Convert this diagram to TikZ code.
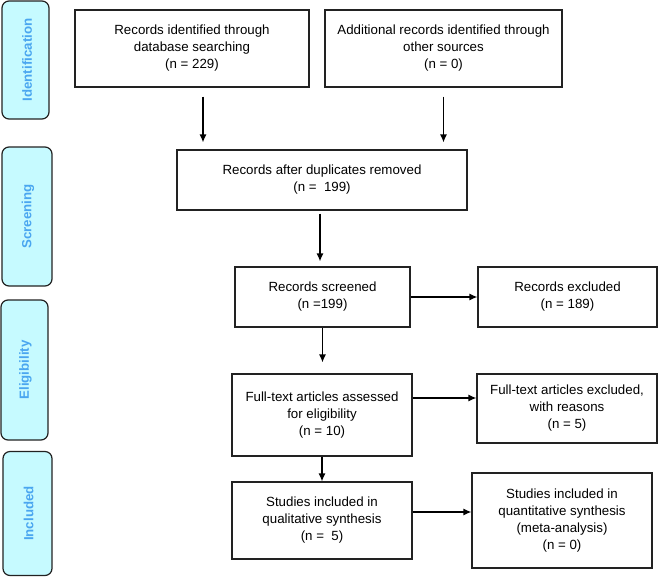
\documentclass[tikz,border=0pt]{standalone}
\usepackage{fontspec}
\setmainfont{Liberation Sans}
\usetikzlibrary{arrows.meta}
\definecolor{stagefill}{HTML}{C6FAFF}
\definecolor{stagetext}{HTML}{4AA6F0}
\definecolor{edge}{HTML}{222222}
\tikzset{
  box/.style={draw=edge, line width=1.2pt, fill=white, inner sep=0pt, align=center,
    font=\fontsize{13.3}{17}\selectfont},
  stage/.style={draw=edge, line width=1.2pt, fill=stagefill, rounded corners=7pt, inner sep=0pt},
  stagelabel/.style={rotate=90, text=stagetext, font=\bfseries\fontsize{13.3}{16}\selectfont},
  arr/.style={draw=black, line width=1.2pt, -{Latex[length=8pt,width=7pt]}}
}
\begin{document}
\begin{tikzpicture}[x=1pt,y=-1pt]
\useasboundingbox (0,0) rectangle (658,576);
% stage labels
\node[stage, minimum width=47pt, minimum height=118pt] (s1) at (25.5,60) {};
\node[stagelabel] (t1) at (27,60) {Identification};
\node[stage, minimum width=50pt, minimum height=139pt] (s2) at (27,216.5) {};
\node[stagelabel] (t2) at (28,216.5) {Screening};
\node[stage, minimum width=47pt, minimum height=140pt] (s3) at (24.5,370) {};
\node[stagelabel] (t3) at (25.5,370) {Eligibility};
\node[stage, minimum width=49pt, minimum height=124pt] (s4) at (27.5,513.5) {};
\node[stagelabel] (t4) at (28.5,513.5) {Included};
% boxes
\node[box, minimum width=234pt, minimum height=77pt] (b1) at (192,48.5)
  {Records identified through\\database searching\\(n = 229)};
\node[box, minimum width=237pt, minimum height=77pt] (b2) at (443.5,48.5)
  {Additional records identified through\\other sources\\(n = 0)};
\node[box, minimum width=290pt, minimum height=60pt] (b3) at (322,180)
  {Records after duplicates removed\\(n = \ 199)};
\node[box, minimum width=175pt, minimum height=60pt] (b4) at (322.5,297)
  {Records screened\\(n =199)};
\node[box, minimum width=179pt, minimum height=60pt] (b5) at (567.5,297)
  {Records excluded\\(n = 189)};
\node[box, minimum width=180pt, minimum height=82pt] (b6) at (322,415)
  {Full-text articles assessed\\for eligibility\\(n = 10)};
\node[box, minimum width=180pt, minimum height=69pt] (b7) at (567,408.5)
  {Full-text articles excluded,\\with reasons\\(n = 5)};
\node[box, minimum width=180pt, minimum height=77pt] (b8) at (322,520.5)
  {Studies included in\\qualitative synthesis\\(n = \ 5)};
\node[box, minimum width=180pt, minimum height=95pt] (b9) at (562,520.5)
  {Studies included in\\quantitative synthesis\\(meta-analysis)\\(n = 0)};
% connectors
\draw[arr, shorten <=9pt, shorten >=7pt] ([xshift=11pt]b1.south) -- ([xshift=11pt]b1.south |- b3.north);
\draw[arr, shorten <=9pt, shorten >=7pt] (b2.south) -- (b2.south |- b3.north);
\draw[arr, shorten <=3pt, shorten >=5pt] ([xshift=-2pt]b3.south) -- ([xshift=-2pt]b3.south |- b4.north);
\draw[arr] (b4.east) -- (b5.west);
\draw[arr, shorten >=11pt] (b4.south) -- (b4.south |- b6.north);
\draw[arr] ([yshift=17pt]b6.east) -- ([yshift=17pt]b6.east -| b7.west);
\draw[arr] (b6.south) -- (b8.north);
\draw[arr] ([yshift=8.5pt]b8.east) -- ([yshift=8.5pt]b8.east -| b9.west);
\end{tikzpicture}
\end{document}
